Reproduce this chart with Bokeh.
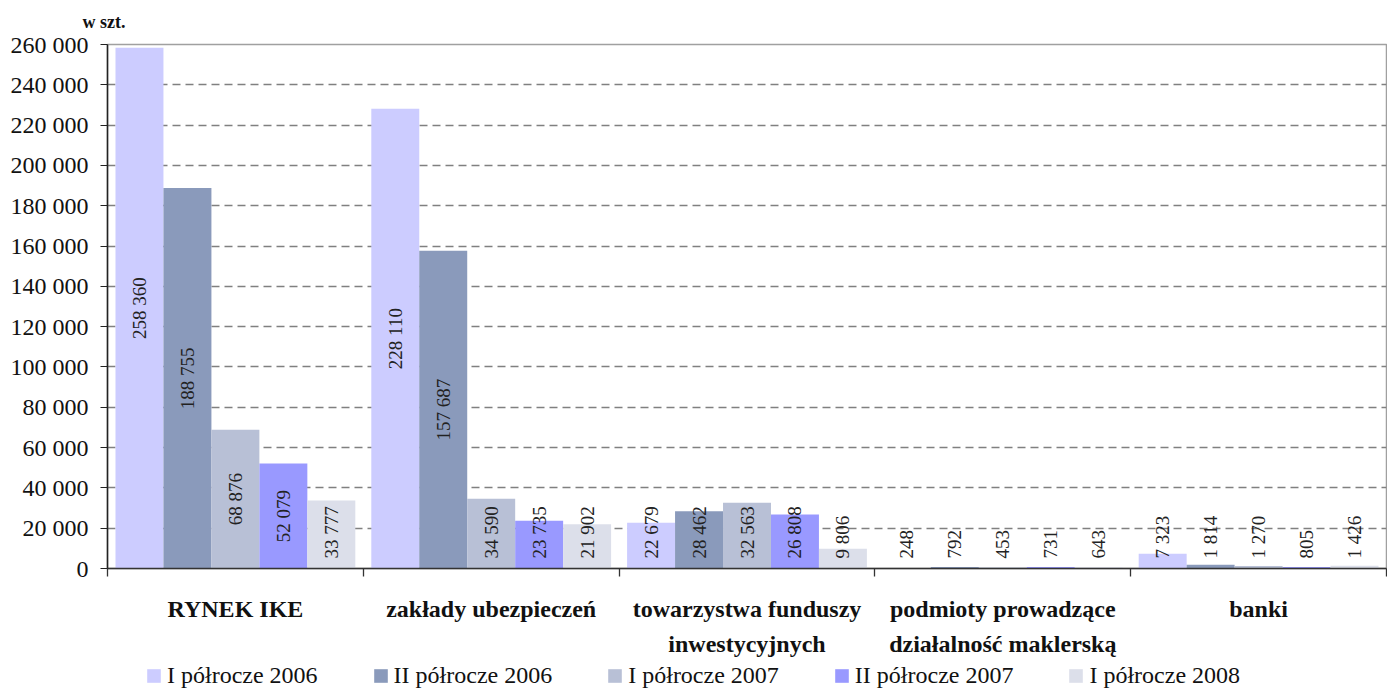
import math
from bokeh.plotting import figure
from bokeh.layouts import column
from bokeh.models import (Range1d, FixedTicker, CustomJSTickFormatter, ColumnDataSource,
                          LabelSet, Legend, LegendItem, LinearAxis)
from bokeh.core.properties import value
from bokeh.embed import file_html
from bokeh.resources import INLINE

categories = ["RYNEK IKE", "zakłady ubezpieczeń", "towarzystwa funduszy\ninwestycyjnych",
              "podmioty prowadzące\ndziałalność maklerską", "banki"]
series = ["I półrocze 2006", "II półrocze 2006", "I półrocze 2007", "II półrocze 2007", "I półrocze 2008"]
h1_2006 = [258360, 228110, 22679, 248, 7323]
h2_2006 = [188755, 157687, 28462, 792, 1814]
h1_2007 = [68876, 34590, 32563, 453, 1270]
h2_2007 = [52079, 23735, 26808, 731, 805]
h1_2008 = [33777, 21902, 9806, 643, 1426]
y_ticks = list(range(0, 260001, 20000))
y_max = 260000
unit_label = "w szt."
colors = ["#CCCCFF", "#8A9ABB", "#B8C0D6", "#9999FF", "#DCDFEA"]

FONT = "Liberation Serif"
W, H = 1387, 664
LEG_H = 26
BL, BR, BT, BB = 107, 1, 44, 96
frame_h = H - BT - BB
ppu = frame_h / y_max


def fmt(v):
    return f"{v:,}".replace(",", " ")


p = figure(width=W, height=H, output_backend="svg", toolbar_location=None,
           x_range=Range1d(0, len(categories)), y_range=Range1d(0, y_max),
           min_border_left=BL, min_border_right=BR, min_border_top=BT, min_border_bottom=BB)
p.outline_line_color = "#a0a0a0"
p.outline_line_width = 1.5
p.background_fill_color = "white"
p.border_fill_color = "white"

# unit label as title
p.title.text = unit_label
p.title.text_font = FONT
p.title.text_font_size = "18px"
p.title.text_font_style = "bold"
p.title.text_color = "#111111"
p.title.align = "left"
p.title.offset = -25
p.title.standoff = 21
p.title.vertical_align = "top"

# grid
p.xgrid.visible = False
p.ygrid.ticker = FixedTicker(ticks=y_ticks)
p.ygrid.grid_line_color = "#808080"
p.ygrid.grid_line_dash = "8 5"
p.ygrid.grid_line_width = 1.3

# y axis
p.yaxis.ticker = FixedTicker(ticks=y_ticks)
p.yaxis.formatter = CustomJSTickFormatter(
    code='return tick.toString().replace(/\\B(?=(\\d{3})+(?!\\d))/g, " ");')
p.yaxis.major_label_text_font = FONT
p.yaxis.major_label_text_font_size = "24px"
p.yaxis.major_label_text_color = "#111111"
p.yaxis.major_tick_out = 7
p.yaxis.major_tick_in = 0
p.yaxis.minor_tick_out = 0
p.yaxis.minor_tick_in = 0
p.yaxis.major_label_standoff = 12
p.yaxis.axis_line_color = "#222222"
p.yaxis.axis_line_width = 1.5
p.yaxis.major_tick_line_color = "#222222"

# x axis: category names (first line) at centres, separator ticks as minor ticks
cx = [i + 0.5 for i in range(len(categories))]
line1 = [c.split("\n")[0] for c in categories]
p.xaxis.ticker = FixedTicker(ticks=cx, minor_ticks=list(range(len(categories) + 1)))
p.xaxis.major_label_overrides = {x: t for x, t in zip(cx, line1)}
p.xaxis.major_label_text_font = FONT
p.xaxis.major_label_text_font_size = "24px"
p.xaxis.major_label_text_font_style = "bold"
p.xaxis.major_label_text_color = "#111111"
p.xaxis.major_label_standoff = 19
p.xaxis.major_tick_out = 0
p.xaxis.major_tick_in = 0
p.xaxis.minor_tick_out = 8
p.xaxis.minor_tick_in = 0
p.xaxis.axis_line_color = "#333333"
p.xaxis.axis_line_width = 1.5
p.xaxis.minor_tick_line_color = "#333333"
p.xaxis.minor_tick_line_width = 1.3

# second line of category names
cx2 = [x for x, c in zip(cx, categories) if "\n" in c]
line2 = [c.split("\n")[1] for c in categories if "\n" in c]
ax2 = LinearAxis(ticker=FixedTicker(ticks=cx2), major_label_overrides={x: t for x, t in zip(cx2, line2)},
                 major_label_text_font=FONT, major_label_text_font_size="24px",
                 major_label_text_font_style="bold", major_label_text_color="#111111",
                 major_label_standoff=0, axis_line_color=None, major_tick_line_color=None,
                 minor_tick_line_color=None)
p.add_layout(ax2, "below")

all_series = [h1_2006, h2_2006, h1_2007, h2_2007, h1_2008]
n = len(all_series)
bw = 0.1875
lab_center = dict(x=[], y=[], t=[])
lab_bottom = dict(x=[], y=[], t=[])
LAB_PX = 19
for j, (vals, name, col) in enumerate(zip(all_series, series, colors)):
    xs = [i + 0.5 + (j - (n - 1) / 2) * bw for i in range(len(categories))]
    src = ColumnDataSource(dict(x=xs, top=vals))
    p.vbar(x="x", top="top", width=bw, source=src, fill_color=col, line_color=None)
    for x, v in zip(xs, vals):
        t = fmt(v)
        est_len = LAB_PX * (0.5 * sum(c.isdigit() for c in t) + 0.25 * t.count(" "))
        if v / 2 * ppu >= 10 + est_len / 2:
            lab_center["x"].append(x); lab_center["y"].append(v / 2); lab_center["t"].append(t)
        else:
            lab_bottom["x"].append(x); lab_bottom["y"].append(10 / ppu); lab_bottom["t"].append(t)

for d, align in ((lab_center, "center"), (lab_bottom, "left")):
    ls = LabelSet(x="x", y="y", text="t", source=ColumnDataSource(d), angle=math.pi / 2,
                  text_align=align, text_baseline="middle", text_font=value(FONT),
                  text_font_size=f"{LAB_PX}px", text_color="#222222")
    p.add_layout(ls)

# legend strip (separate figure so it can sit left of the frame centre)
lg = figure(width=W, height=LEG_H, output_backend="svg", toolbar_location=None,
            x_range=Range1d(0, len(categories)), y_range=Range1d(-2, -1),
            x_axis_type=None, y_axis_type=None,
            min_border_left=0, min_border_right=0, min_border_top=0, min_border_bottom=0)
lg.outline_line_color = None
lg.xgrid.visible = False
lg.ygrid.visible = False
items = []
for j, (vals, name, col) in enumerate(zip(all_series, series, colors)):
    xs = [i + 0.5 + (j - (n - 1) / 2) * bw for i in range(len(categories))]
    r = lg.vbar(x=xs, top=vals, width=bw, fill_color=col, line_color=None, visible=False)
    items.append(LegendItem(label=name, renderers=[r]))
legend = Legend(items=items, orientation="horizontal", location=(38, 1),
                padding=0, margin=0, spacing=54, glyph_width=17, glyph_height=17,
                label_standoff=5, label_text_font=FONT, label_text_font_size="24px",
                label_text_color="#111111", border_line_color=None,
                background_fill_alpha=0, label_height=24,
                inactive_fill_alpha=0)
lg.add_layout(legend)

open("out.html", "w").write(file_html(column(p, lg, spacing=0), INLINE))
